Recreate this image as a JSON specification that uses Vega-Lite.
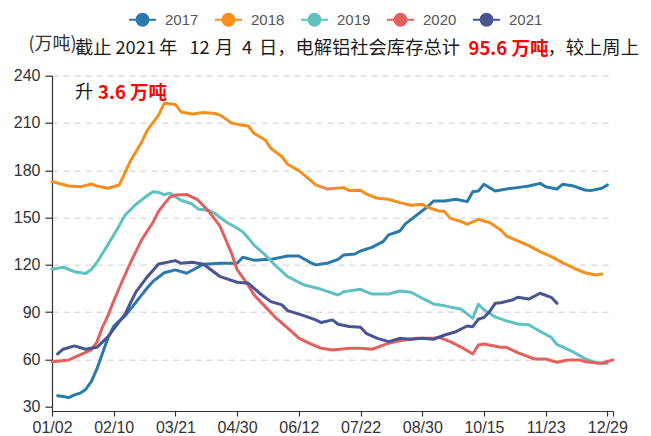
{
  "$schema": "https://vega.github.io/schema/vega-lite/v6.json",
  "autosize": {"type": "none"},
  "padding": {"left": 52, "top": 75.7, "right": 38, "bottom": 25},
  "width": 561,
  "height": 335.3,
  "background": "white",
  "config": {
    "view": {"stroke": null},
    "axis": {"labelFont": "Liberation Sans", "labelFontSize": 16, "labelColor": "#333", "domainColor": "#333", "tickColor": "#333", "domainWidth": 1.2, "tickWidth": 1.2}
  },
  "encoding": {
    "x": {
      "field": "i", "type": "quantitative",
      "scale": {"domain": [0, 100], "nice": false, "zero": false},
      "axis": {
        "title": null, "grid": false,
        "values": [0, 11, 22, 33, 44, 55, 66, 77, 88, 99, 100],
        "labelExpr": "datum.value == 100 ? '' : ['01/02','02/10','03/21','04/30','06/12','07/22','08/30','10/15','11/23','12/29'][round(datum.value / 11)]",
        "labelFlush": false, "labelOverlap": false, "labelBound": false,
        "tickSize": 5, "labelPadding": 3, "offset": 0
      }
    },
    "y": {
      "field": "v", "type": "quantitative",
      "scale": {"domain": [27.3, 240], "nice": false, "zero": false},
      "axis": {
        "title": "(万吨)", "titleAngle": 0, "titleAlign": "center", "titleBaseline": "middle",
        "titleX": 0, "titleY": -31, "titleFont": "Noto Sans CJK SC", "titleFontSize": 18, "titleFontWeight": "normal", "titleColor": "#333",
        "values": [30, 60, 90, 120, 150, 180, 210, 240],
        "grid": true, "gridColor": "#dddddd", "gridDash": [6, 5], "gridWidth": 1.5,
        "gridOpacity": {"condition": {"test": "datum.value == 30", "value": 0}, "value": 1},
        "tickSize": 7, "labelPadding": 5
      }
    }
  },
  "layer": [
    {
      "data": {"values": [
        {"year":"2017","i":1,"v":37},{"year":"2017","i":2,"v":36.5},{"year":"2017","i":3,"v":35.8},{"year":"2017","i":4,"v":37.5},{"year":"2017","i":5,"v":38.6},{"year":"2017","i":6,"v":41},{"year":"2017","i":7,"v":46},{"year":"2017","i":8,"v":54},{"year":"2017","i":9,"v":64},{"year":"2017","i":10,"v":74},{"year":"2017","i":11,"v":81},{"year":"2017","i":12,"v":84.5},{"year":"2017","i":13,"v":87.5},{"year":"2017","i":15,"v":96.5},{"year":"2017","i":17,"v":105.5},{"year":"2017","i":18,"v":109.5},{"year":"2017","i":20,"v":115},{"year":"2017","i":22,"v":116.8},{"year":"2017","i":24,"v":114.7},{"year":"2017","i":26,"v":118.5},{"year":"2017","i":27,"v":120.4},{"year":"2017","i":30,"v":121},{"year":"2017","i":33,"v":121},{"year":"2017","i":34,"v":124.8},{"year":"2017","i":36,"v":123},{"year":"2017","i":39,"v":123.5},{"year":"2017","i":42,"v":125.6},{"year":"2017","i":44,"v":125.6},{"year":"2017","i":46,"v":121.6},{"year":"2017","i":47,"v":120},{"year":"2017","i":49,"v":121},{"year":"2017","i":51,"v":123.5},{"year":"2017","i":52,"v":126.3},{"year":"2017","i":54,"v":126.9},{"year":"2017","i":55,"v":128.8},{"year":"2017","i":57,"v":131.1},{"year":"2017","i":59,"v":134.7},{"year":"2017","i":60,"v":139},{"year":"2017","i":62,"v":141.5},{"year":"2017","i":63,"v":146},{"year":"2017","i":65,"v":151.6},{"year":"2017","i":67,"v":157},{"year":"2017","i":68,"v":160.5},{"year":"2017","i":70,"v":160.5},{"year":"2017","i":72,"v":161.6},{"year":"2017","i":74,"v":160.1},{"year":"2017","i":75,"v":166.4},{"year":"2017","i":76,"v":166.8},{"year":"2017","i":77,"v":171.1},{"year":"2017","i":79,"v":166.9},{"year":"2017","i":81,"v":168.1},{"year":"2017","i":83,"v":169},{"year":"2017","i":85,"v":170},{"year":"2017","i":87,"v":171.7},{"year":"2017","i":88,"v":169.6},{"year":"2017","i":90,"v":168.1},{"year":"2017","i":91,"v":171.1},{"year":"2017","i":93,"v":170},{"year":"2017","i":95,"v":167.5},{"year":"2017","i":96,"v":167.1},{"year":"2017","i":98,"v":168.6},{"year":"2017","i":99,"v":170.7},
        {"year":"2018","i":0,"v":172.8},{"year":"2018","i":2,"v":171},{"year":"2018","i":3,"v":170},{"year":"2018","i":5,"v":169.5},{"year":"2018","i":7,"v":171.3},{"year":"2018","i":8,"v":170},{"year":"2018","i":10,"v":168.6},{"year":"2018","i":12,"v":170.7},{"year":"2018","i":14,"v":186},{"year":"2018","i":16,"v":198},{"year":"2018","i":17,"v":205.5},{"year":"2018","i":19,"v":215},{"year":"2018","i":20,"v":222.5},{"year":"2018","i":22,"v":221.7},{"year":"2018","i":23,"v":217},{"year":"2018","i":25,"v":215.7},{"year":"2018","i":27,"v":216.7},{"year":"2018","i":29,"v":216},{"year":"2018","i":30,"v":215},{"year":"2018","i":32,"v":210},{"year":"2018","i":34,"v":208.5},{"year":"2018","i":35,"v":208.1},{"year":"2018","i":36,"v":203.5},{"year":"2018","i":38,"v":199.2},{"year":"2018","i":39,"v":194},{"year":"2018","i":41,"v":188.6},{"year":"2018","i":42,"v":183.8},{"year":"2018","i":44,"v":179.8},{"year":"2018","i":46,"v":173.9},{"year":"2018","i":47,"v":170.7},{"year":"2018","i":49,"v":168.2},{"year":"2018","i":52,"v":169},{"year":"2018","i":53,"v":167.1},{"year":"2018","i":55,"v":167.4},{"year":"2018","i":56,"v":165},{"year":"2018","i":58,"v":162.2},{"year":"2018","i":60,"v":161.6},{"year":"2018","i":62,"v":159.5},{"year":"2018","i":64,"v":157.8},{"year":"2018","i":66,"v":158.4},{"year":"2018","i":67,"v":156.5},{"year":"2018","i":69,"v":154.2},{"year":"2018","i":70,"v":153.8},{"year":"2018","i":71,"v":149.5},{"year":"2018","i":73,"v":147.4},{"year":"2018","i":74,"v":145.7},{"year":"2018","i":76,"v":148.9},{"year":"2018","i":78,"v":146.8},{"year":"2018","i":80,"v":142.1},{"year":"2018","i":81,"v":138.3},{"year":"2018","i":83,"v":135.2},{"year":"2018","i":85,"v":132.2},{"year":"2018","i":87,"v":128.4},{"year":"2018","i":89,"v":125.2},{"year":"2018","i":91,"v":121.4},{"year":"2018","i":93,"v":118},{"year":"2018","i":95,"v":115},{"year":"2018","i":97,"v":113.6},{"year":"2018","i":98,"v":114.2},
        {"year":"2019","i":0,"v":117.2},{"year":"2019","i":2,"v":118.5},{"year":"2019","i":4,"v":115.7},{"year":"2019","i":6,"v":114.5},{"year":"2019","i":7,"v":117},{"year":"2019","i":8,"v":121.5},{"year":"2019","i":10,"v":133},{"year":"2019","i":11,"v":139},{"year":"2019","i":12,"v":145},{"year":"2019","i":13,"v":151.5},{"year":"2019","i":15,"v":158.5},{"year":"2019","i":17,"v":164},{"year":"2019","i":18,"v":166.4},{"year":"2019","i":19,"v":166},{"year":"2019","i":20,"v":164.5},{"year":"2019","i":21,"v":165.5},{"year":"2019","i":23,"v":161},{"year":"2019","i":25,"v":158.6},{"year":"2019","i":26,"v":155.5},{"year":"2019","i":28,"v":154.5},{"year":"2019","i":29,"v":152.7},{"year":"2019","i":31,"v":147.4},{"year":"2019","i":33,"v":143.2},{"year":"2019","i":34,"v":141},{"year":"2019","i":35,"v":137},{"year":"2019","i":36,"v":132.6},{"year":"2019","i":38,"v":126.3},{"year":"2019","i":40,"v":119},{"year":"2019","i":42,"v":112.5},{"year":"2019","i":45,"v":107.2},{"year":"2019","i":48,"v":104.5},{"year":"2019","i":51,"v":100.9},{"year":"2019","i":52,"v":103},{"year":"2019","i":55,"v":104.5},{"year":"2019","i":57,"v":101.5},{"year":"2019","i":60,"v":101.5},{"year":"2019","i":62,"v":103.4},{"year":"2019","i":64,"v":102.6},{"year":"2019","i":66,"v":98.8},{"year":"2019","i":68,"v":95.2},{"year":"2019","i":70,"v":94},{"year":"2019","i":73,"v":91.8},{"year":"2019","i":75,"v":86.1},{"year":"2019","i":76,"v":95},{"year":"2019","i":77,"v":91.5},{"year":"2019","i":79,"v":87},{"year":"2019","i":81,"v":84.5},{"year":"2019","i":83,"v":82.5},{"year":"2019","i":85,"v":82},{"year":"2019","i":86,"v":79.8},{"year":"2019","i":89,"v":74},{"year":"2019","i":90,"v":69.5},{"year":"2019","i":93,"v":64.6},{"year":"2019","i":95,"v":60.5},{"year":"2019","i":97,"v":57.6},{"year":"2019","i":99,"v":57.6},
        {"year":"2020","i":0,"v":58.6},{"year":"2020","i":3,"v":59.7},{"year":"2020","i":5,"v":62.9},{"year":"2020","i":7,"v":66},{"year":"2020","i":8,"v":71},{"year":"2020","i":9,"v":80.5},{"year":"2020","i":10,"v":88},{"year":"2020","i":11,"v":97},{"year":"2020","i":12,"v":105.5},{"year":"2020","i":14,"v":121.5},{"year":"2020","i":16,"v":136},{"year":"2020","i":17,"v":141.5},{"year":"2020","i":18,"v":147},{"year":"2020","i":19,"v":154},{"year":"2020","i":20,"v":158.5},{"year":"2020","i":21,"v":163},{"year":"2020","i":22,"v":164.3},{"year":"2020","i":24,"v":164.7},{"year":"2020","i":26,"v":161.2},{"year":"2020","i":28,"v":153.8},{"year":"2020","i":30,"v":144.2},{"year":"2020","i":31,"v":135.8},{"year":"2020","i":32,"v":127.4},{"year":"2020","i":33,"v":117},{"year":"2020","i":35,"v":107},{"year":"2020","i":36,"v":101},{"year":"2020","i":38,"v":93.5},{"year":"2020","i":40,"v":86},{"year":"2020","i":42,"v":80},{"year":"2020","i":44,"v":73.5},{"year":"2020","i":46,"v":70},{"year":"2020","i":48,"v":67.1},{"year":"2020","i":50,"v":66},{"year":"2020","i":53,"v":67.1},{"year":"2020","i":55,"v":67.1},{"year":"2020","i":57,"v":66.5},{"year":"2020","i":58,"v":67.7},{"year":"2020","i":60,"v":70.3},{"year":"2020","i":62,"v":71.9},{"year":"2020","i":65,"v":73.4},{"year":"2020","i":68,"v":73.4},{"year":"2020","i":69,"v":74},{"year":"2020","i":71,"v":71.3},{"year":"2020","i":73,"v":67.7},{"year":"2020","i":75,"v":63.5},{"year":"2020","i":76,"v":69.2},{"year":"2020","i":77,"v":69.8},{"year":"2020","i":80,"v":67.7},{"year":"2020","i":81,"v":67.7},{"year":"2020","i":83,"v":64.3},{"year":"2020","i":86,"v":60.3},{"year":"2020","i":88,"v":60.3},{"year":"2020","i":90,"v":58.2},{"year":"2020","i":92,"v":59.7},{"year":"2020","i":94,"v":59.7},{"year":"2020","i":95,"v":58.6},{"year":"2020","i":98,"v":57.6},{"year":"2020","i":100,"v":59.7},
        {"year":"2021","i":1,"v":63.5},{"year":"2021","i":2,"v":66.5},{"year":"2021","i":4,"v":68.6},{"year":"2021","i":6,"v":66.5},{"year":"2021","i":8,"v":67.7},{"year":"2021","i":10,"v":74.5},{"year":"2021","i":12,"v":84},{"year":"2021","i":13,"v":88.5},{"year":"2021","i":14,"v":96},{"year":"2021","i":15,"v":103},{"year":"2021","i":17,"v":112.5},{"year":"2021","i":19,"v":120.6},{"year":"2021","i":22,"v":122.7},{"year":"2021","i":23,"v":121},{"year":"2021","i":25,"v":121.6},{"year":"2021","i":27,"v":120.4},{"year":"2021","i":30,"v":112.5},{"year":"2021","i":33,"v":109},{"year":"2021","i":35,"v":108.3},{"year":"2021","i":37,"v":102},{"year":"2021","i":39,"v":96.7},{"year":"2021","i":41,"v":94.6},{"year":"2021","i":42,"v":91},{"year":"2021","i":45,"v":87.6},{"year":"2021","i":47,"v":85.1},{"year":"2021","i":48,"v":83.4},{"year":"2021","i":50,"v":85.1},{"year":"2021","i":51,"v":82.3},{"year":"2021","i":53,"v":80.9},{"year":"2021","i":55,"v":80.4},{"year":"2021","i":56,"v":76.6},{"year":"2021","i":58,"v":73.4},{"year":"2021","i":60,"v":71.3},{"year":"2021","i":62,"v":73.4},{"year":"2021","i":64,"v":72.8},{"year":"2021","i":66,"v":73.4},{"year":"2021","i":68,"v":72.8},{"year":"2021","i":70,"v":75.5},{"year":"2021","i":72,"v":77.6},{"year":"2021","i":74,"v":81.2},{"year":"2021","i":75,"v":80.8},{"year":"2021","i":76,"v":85.5},{"year":"2021","i":77,"v":86.7},{"year":"2021","i":78,"v":90.3},{"year":"2021","i":79,"v":95.6},{"year":"2021","i":80,"v":96},{"year":"2021","i":82,"v":97.7},{"year":"2021","i":83,"v":99.4},{"year":"2021","i":85,"v":98.3},{"year":"2021","i":87,"v":102},{"year":"2021","i":89,"v":99.4},{"year":"2021","i":90,"v":95.6}
      ]},
      "mark": {"type": "line", "strokeWidth": 3, "strokeJoin": "round", "strokeCap": "round"},
      "encoding": {
        "color": {
          "field": "year", "type": "nominal",
          "scale": {"domain": ["2017", "2018", "2019", "2020", "2021"], "range": ["#2a7aa9", "#f68e1e", "#5fc1c0", "#e3605f", "#4a5490"]},
          "legend": {
            "orient": "none", "legendX": 76, "legendY": -70.7, "direction": "horizontal", "title": null,
            "symbolType": "M-1,0L1,0M0.44,0A0.44,0.44,0,1,1,-0.44,0A0.44,0.44,0,1,1,0.44,0",
            "symbolSize": 729, "symbolStrokeWidth": 2,
            "labelFont": "Liberation Sans", "labelFontSize": 15, "labelColor": "#555", "labelOffset": 8,
            "columnPadding": 12, "padding": 0,
            "encode": {"symbols": {"update": {"fill": {"scale": "color", "field": "value"}, "stroke": {"scale": "color", "field": "value"}, "opacity": {"value": 1}}}}
          }
        }
      }
    },
    {
      "data": {"values": [
        {"i": 4.1, "v": 256.9, "t": "截止"},
        {"i": 11.31, "v": 256.9, "t": "2021"},
        {"i": 19.06, "v": 256.9, "t": "年"},
        {"i": 24.5, "v": 256.9, "t": "12"},
        {"i": 29.04, "v": 256.9, "t": "月"},
        {"i": 33.85, "v": 256.9, "t": "4"},
        {"i": 36.88, "v": 256.9, "t": "日，电解铝社会库存总计"},
        {"i": 88.33, "v": 256.9, "t": "，较上周上"},
        {"i": 4.1, "v": 228.8, "t": "升"}
      ]},
      "mark": {"type": "text", "align": "left", "baseline": "middle", "font": "Noto Sans CJK SC", "fontSize": 18.3, "color": "#1a1a1a"},
      "encoding": {"text": {"field": "t"}}
    },
    {
      "data": {"values": [
        {"i": 74.24, "v": 256.9, "t": "95.6 万吨"},
        {"i": 8.2, "v": 228.8, "t": "3.6 万吨"}
      ]},
      "mark": {"type": "text", "align": "left", "baseline": "middle", "font": "Noto Sans CJK SC", "fontSize": 18.5, "fontWeight": "bold", "color": "#ff0000"},
      "encoding": {"text": {"field": "t"}}
    }
  ]
}
